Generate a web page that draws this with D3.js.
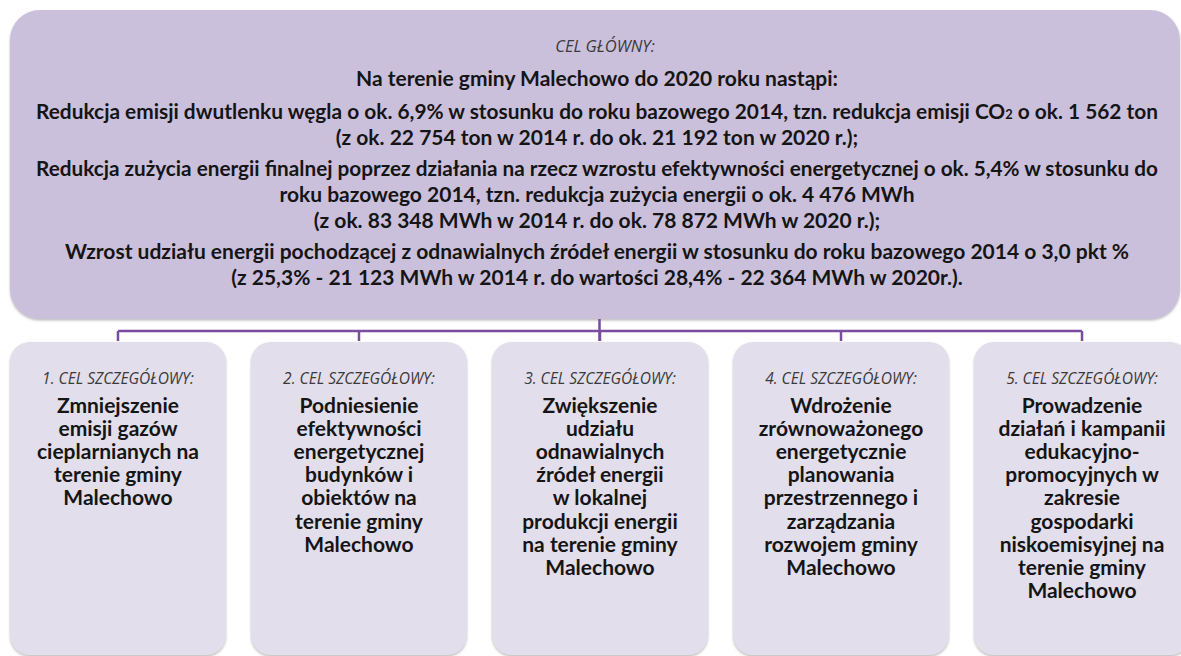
<!DOCTYPE html>
<html>
<head>
<meta charset="utf-8">
<script src="https://cdn.jsdelivr.net/npm/d3@7/dist/d3.min.js"></script>
<style>
  body { margin: 0; background: #fff; }
  svg { display: block; }
</style>
</head>
<body>
<svg width="1181" height="656"></svg>
<script>
// main goal text
var mainLabel = "CEL GŁÓWNY:";
var mainHeading = "Na terenie gminy Malechowo do 2020 roku nastąpi:";
// "CO_2" -> CO with subscript 2
var mainParagraphs = [
  [
    "Redukcja emisji dwutlenku węgla o ok. 6,9% w stosunku do roku bazowego 2014, tzn. redukcja emisji CO_2 o ok. 1 562 ton",
    "(z ok. 22 754 ton w 2014 r. do ok. 21 192 ton w 2020 r.);"
  ],
  [
    "Redukcja zużycia energii finalnej poprzez działania na  rzecz wzrostu efektywności energetycznej o ok. 5,4% w stosunku do",
    "roku bazowego 2014, tzn. redukcja zużycia energii o ok. 4 476 MWh",
    "(z ok. 83 348 MWh w 2014 r. do ok. 78 872 MWh w 2020 r.);"
  ],
  [
    "Wzrost udziału energii pochodzącej z odnawialnych źródeł energii w stosunku do roku bazowego 2014 o 3,0 pkt %",
    "(z 25,3% - 21 123 MWh w 2014 r. do wartości 28,4% - 22 364 MWh w 2020r.)."
  ]
];

// specific goals
var goalLabels = [
  "1. CEL SZCZEGÓŁOWY:",
  "2. CEL SZCZEGÓŁOWY:",
  "3. CEL SZCZEGÓŁOWY:",
  "4. CEL SZCZEGÓŁOWY:",
  "5. CEL SZCZEGÓŁOWY:"
];
var goalTitles = [
  ["Zmniejszenie", "emisji gazów", "cieplarnianych na", "terenie gminy", "Malechowo"],
  ["Podniesienie", "efektywności", "energetycznej", "budynków i", "obiektów na", "terenie gminy", "Malechowo"],
  ["Zwiększenie", "udziału", "odnawialnych", "źródeł energii", "w lokalnej", "produkcji energii", "na terenie gminy", "Malechowo"],
  ["Wdrożenie", "zrównoważonego", "energetycznie", "planowania", "przestrzennego i", "zarządzania", "rozwojem gminy", "Malechowo"],
  ["Prowadzenie", "działań i kampanii", "edukacyjno-", "promocyjnych w", "zakresie", "gospodarki", "niskoemisyjnej na", "terenie gminy", "Malechowo"]
];

var svg = d3.select("svg");
var width = +svg.attr("width");

var boldFont = "Lato, 'Noto Sans', sans-serif";
var italicFont = "'Open Sans', 'Noto Sans', sans-serif";

var defs = svg.append("defs");
var shadow = defs.append("filter").attr("id", "shadow")
  .attr("x", "-5%").attr("y", "-5%").attr("width", "110%").attr("height", "115%");
shadow.append("feDropShadow")
  .attr("dx", 0).attr("dy", 1.5).attr("stdDeviation", 1.3)
  .attr("flood-color", "#777").attr("flood-opacity", 0.5);

// ---- main box ----
var mainBox = { x: 10, y: 10, w: 1170, h: 309 };
svg.append("rect")
  .attr("x", mainBox.x).attr("y", mainBox.y)
  .attr("width", mainBox.w).attr("height", mainBox.h)
  .attr("rx", 30)
  .attr("fill", "#cbc0dc")
  .attr("filter", "url(#shadow)");

var cx = mainBox.x + mainBox.w / 2 + 2;

svg.append("text")
  .attr("x", cx + 8).attr("y", 45)
  .attr("text-anchor", "middle").attr("dominant-baseline", "central")
  .style("font-family", italicFont).style("font-style", "italic")
  .style("font-size", "16.5px").attr("fill", "#3a3a3a")
  .text(mainLabel);

svg.append("text")
  .attr("x", cx).attr("y", 77)
  .attr("text-anchor", "middle").attr("dominant-baseline", "central")
  .style("font-family", boldFont).style("font-weight", "bold")
  .style("font-size", "21px").attr("fill", "#151515")
  .text(mainHeading);

// line positions of the paragraphs
var lines = [];
var yy = 110;
mainParagraphs.forEach(function(p) {
  p.forEach(function(s) {
    lines.push({ text: s, y: yy });
    yy += 26;
  });
  yy += 5;
});

var maxW = 1122;
lines.forEach(function(l) {
  var t = svg.append("text")
    .attr("x", cx).attr("y", l.y)
    .attr("text-anchor", "middle").attr("dominant-baseline", "central")
    .style("font-family", boldFont).style("font-weight", "bold")
    .style("font-size", "21px").attr("fill", "#151515");
  var parts = l.text.split("CO_2");
  if (parts.length > 1) {
    t.append("tspan").text(parts[0] + "CO");
    t.append("tspan").attr("dy", 4).style("font-size", "13px").text("2");
    t.append("tspan").attr("dy", -4).text(parts[1]);
  } else {
    t.text(l.text);
  }
  var len = t.node().getComputedTextLength();
  if (len > maxW) {
    t.attr("textLength", maxW).attr("lengthAdjust", "spacingAndGlyphs");
  }
});

// ---- goal boxes ----
var x = d3.scaleBand()
  .domain(d3.range(goalLabels.length))
  .range([10, 1190])
  .paddingInner(0.104);

var boxTop = 342, boxBottom = 655;
var lineY = 331;

// connectors
var conn = svg.append("g")
  .attr("stroke", "#7a4c9f").attr("stroke-width", 2.5).attr("fill", "none");
var c0 = x(0) + x.bandwidth() / 2;
var c4 = x(4) + x.bandwidth() / 2;
conn.append("line").attr("x1", c0).attr("x2", c4).attr("y1", lineY).attr("y2", lineY);
conn.append("line").attr("x1", width / 2 + 9).attr("x2", width / 2 + 9)
  .attr("y1", mainBox.y + mainBox.h).attr("y2", boxTop - 1);
conn.selectAll(".drop").data(x.domain()).enter().append("line")
  .attr("class", "drop")
  .attr("x1", function(d) { return x(d) + x.bandwidth() / 2; })
  .attr("x2", function(d) { return x(d) + x.bandwidth() / 2; })
  .attr("y1", lineY).attr("y2", boxTop - 1);

var goal = svg.selectAll(".goal").data(x.domain()).enter().append("g")
  .attr("class", "goal")
  .attr("transform", function(d) { return "translate(" + x(d) + ",0)"; });

goal.append("rect")
  .attr("x", 0).attr("y", boxTop)
  .attr("width", x.bandwidth()).attr("height", boxBottom - boxTop)
  .attr("rx", 20)
  .attr("fill", "#e3deeb")
  .attr("filter", "url(#shadow)");

goal.append("text")
  .attr("x", x.bandwidth() / 2).attr("y", 378)
  .attr("text-anchor", "middle").attr("dominant-baseline", "central")
  .style("font-family", italicFont).style("font-style", "italic")
  .style("font-size", "15.5px").attr("fill", "#3a3a3a")
  .text(function(d) { return goalLabels[d]; });

goal.each(function(d) {
  var g = d3.select(this);
  goalTitles[d].forEach(function(s, i) {
    g.append("text")
      .attr("x", x.bandwidth() / 2).attr("y", 404 + i * 23.2)
      .attr("text-anchor", "middle").attr("dominant-baseline", "central")
      .style("font-family", boldFont).style("font-weight", "bold")
      .style("font-size", "21px").attr("fill", "#151515")
      .text(s);
  });
});
</script>
</body>
</html>
